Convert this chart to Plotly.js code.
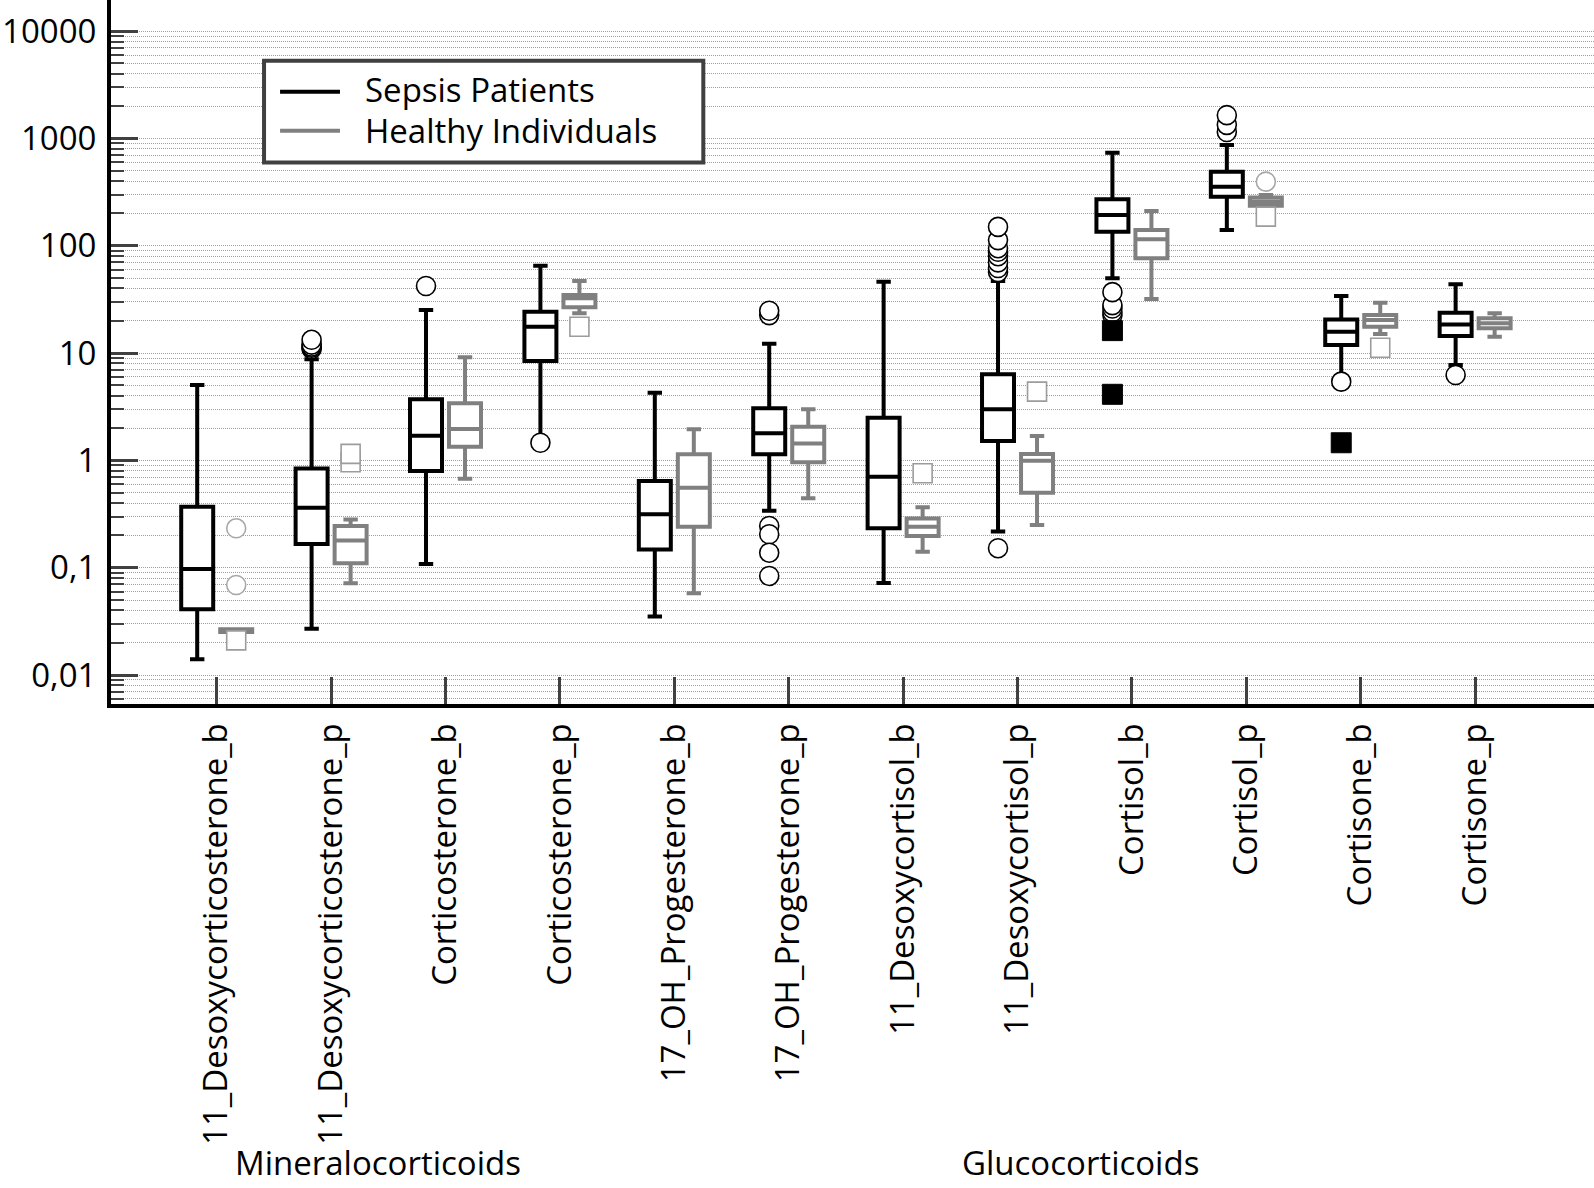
<!DOCTYPE html>
<html>
<head>
<meta charset="utf-8">
<script src="https://cdn.plot.ly/plotly-3.0.1.min.js"></script>
<style>html,body{margin:0;padding:0;background:#fff;}#chart{width:1594px;height:1188px;}</style>
</head>
<body>
<div id="chart"></div>
<script>
// ---- data ----
const categories = ['11_Desoxycorticosterone_b','11_Desoxycorticosterone_p','Corticosterone_b','Corticosterone_p',
  '17_OH_Progesterone_b','17_OH_Progesterone_p','11_Desoxycortisol_b','11_Desoxycortisol_p',
  'Cortisol_b','Cortisol_p','Cortisone_b','Cortisone_p'];

const sepsisLower  = [0.014, 0.027, 0.108, 1.55, 0.035, 0.34, 0.072, 0.217, 49.8, 140, 5.8, 7.75];
const sepsisQ1     = [0.041, 0.166, 0.796, 8.44, 0.148, 1.14, 0.233, 1.52, 135.5, 287, 11.9, 14.4];
const sepsisMedian = [0.097, 0.362, 1.70, 17.6, 0.314, 1.79, 0.705, 2.99, 194, 355, 15.8, 18.5];
const sepsisQ3     = [0.37, 0.84, 3.71, 24.3, 0.643, 3.06, 2.50, 6.34, 271, 491, 20.6, 23.8];
const sepsisUpper  = [5.05, 8.75, 25.2, 65.3, 4.28, 12.2, 46.3, 47, 738, 869, 34.1, 43.8];

const healthyLower  = [0.0251, 0.0716, 0.676, 23.5, 0.0577, 0.444, 0.141, 0.25, 31.9, 232, 15.1, 14.2];
const healthyQ1     = [0.0251, 0.11, 1.34, 26.7, 0.241, 0.96, 0.197, 0.50, 76.4, 236, 17.6, 17.0];
const healthyMedian = [0.0259, 0.179, 1.96, 32.4, 0.557, 1.44, 0.241, 0.994, 115, 258, 20.3, 19.0];
const healthyQ3     = [0.0267, 0.245, 3.40, 34.8, 1.14, 2.06, 0.288, 1.15, 140, 282, 22.6, 21.1];
const healthyUpper  = [0.0267, 0.282, 9.14, 47, 1.95, 2.99, 0.366, 1.69, 211, 297, 29.5, 23.5];

// outliers (circles) and extremes (squares)
const sepsisOutCat = ['11_Desoxycorticosterone_p','11_Desoxycorticosterone_p','11_Desoxycorticosterone_p','11_Desoxycorticosterone_p','11_Desoxycorticosterone_p',
  'Corticosterone_b','Corticosterone_p',
  '17_OH_Progesterone_p','17_OH_Progesterone_p','17_OH_Progesterone_p','17_OH_Progesterone_p','17_OH_Progesterone_p','17_OH_Progesterone_p',
  '11_Desoxycortisol_p','11_Desoxycortisol_p','11_Desoxycortisol_p','11_Desoxycortisol_p','11_Desoxycortisol_p','11_Desoxycortisol_p','11_Desoxycortisol_p','11_Desoxycortisol_p','11_Desoxycortisol_p',
  'Cortisol_b','Cortisol_b','Cortisol_b','Cortisol_b','Cortisol_b',
  'Cortisol_p','Cortisol_p','Cortisol_p','Cortisone_b','Cortisone_p'];
const sepsisOutVal = [10.9, 11.2, 11.5, 12.0, 13.3,
  42.2, 1.46,
  22.6, 24.8, 0.245, 0.205, 0.138, 0.0838,
  57, 62, 70, 80, 88, 95, 113, 150, 0.152,
  22.5, 24, 26, 28, 37,
  1150, 1340, 1650, 5.42, 6.25];
const sepsisExtCat = ['Cortisol_b','Cortisol_b','Cortisone_b'];
const sepsisExtVal = [16.2, 4.13, 1.46];

const healthyOutCat = ['11_Desoxycorticosterone_b','11_Desoxycorticosterone_b','Cortisol_p'];
const healthyOutVal = [0.233, 0.069, 396];
const healthyExtCat = ['11_Desoxycorticosterone_b','11_Desoxycorticosterone_p','11_Desoxycorticosterone_p','Corticosterone_p',
  '11_Desoxycortisol_b','11_Desoxycortisol_p','Cortisol_p','Cortisone_b'];
const healthyExtVal = [0.021, 0.96, 1.15, 17.6, 0.759, 4.37, 187, 11.2];

const yTickVals = [0.01, 0.1, 1, 10, 100, 1000, 10000];
const yTickText = ['0,01', '0,1', '1', '10', '100', '1000', '10000'];

const seriesNames = ['Sepsis Patients', 'Healthy Individuals'];
const groupLabels = ['Mineralocorticoids', 'Glucocorticoids'];

// ---- styling ----
const FONT = 'Open Sans, Liberation Sans, Arial, sans-serif';
const FS = 33;
const BLACK = '#000000';
const GRAY = '#808080';
const seriesColors = [BLACK, GRAY];

const boxCommon = {
  type: 'box', x: categories, boxpoints: false, whiskerwidth: 0.45,
  fillcolor: '#ffffff', showlegend: false, hoverinfo: 'skip'
};

const traces = [
  Object.assign({}, boxCommon, {
    name: seriesNames[0], offsetgroup: 'S',
    q1: sepsisQ1, median: sepsisMedian, q3: sepsisQ3, lowerfence: sepsisLower, upperfence: sepsisUpper,
    line: {color: BLACK, width: 4}
  }),
  Object.assign({}, boxCommon, {
    name: seriesNames[1], offsetgroup: 'H',
    q1: healthyQ1, median: healthyMedian, q3: healthyQ3, lowerfence: healthyLower, upperfence: healthyUpper,
    line: {color: GRAY, width: 4}
  }),
  {type: 'scatter', mode: 'markers', x: sepsisOutCat, y: sepsisOutVal, offsetgroup: 'S', showlegend: false,
   marker: {symbol: 'circle', size: 19, color: '#ffffff', line: {color: BLACK, width: 1.6}}},
  {type: 'scatter', mode: 'markers', x: sepsisExtCat, y: sepsisExtVal, offsetgroup: 'S', showlegend: false,
   marker: {symbol: 'square', size: 20, color: BLACK, line: {color: BLACK, width: 1}}},
  {type: 'scatter', mode: 'markers', x: healthyOutCat, y: healthyOutVal, offsetgroup: 'H', showlegend: false,
   marker: {symbol: 'circle', size: 19, color: '#ffffff', line: {color: '#a8a8a8', width: 1.6}}},
  {type: 'scatter', mode: 'markers', x: healthyExtCat, y: healthyExtVal, offsetgroup: 'H', showlegend: false,
   marker: {symbol: 'square', size: 19, color: '#ffffff', line: {color: '#9c9c9c', width: 1.6}}}
];

const gridDash = '1px,1px';
const gridColor = '#a0a0a0';

// legend drawn as a framed key (paper coordinates)
const legendBox = {x0: 0.1032, x1: 0.3994, y0: 0.7692, y1: 0.9136};
const legendRowsY = [0.8697, 0.8143];
const legendTextY = [0.8722, 0.8142];
const shapes = [
  {type: 'rect', xref: 'paper', yref: 'paper', x0: legendBox.x0, x1: legendBox.x1, y0: legendBox.y0, y1: legendBox.y1,
   line: {color: '#404040', width: 4}, fillcolor: '#ffffff', layer: 'above'}
];
const annotations = [];
seriesNames.forEach(function (nm, i) {
  shapes.push({type: 'line', xref: 'paper', yref: 'paper', x0: 0.1140, x1: 0.1544, y0: legendRowsY[i], y1: legendRowsY[i],
    line: {color: seriesColors[i], width: 4}, layer: 'above'});
  annotations.push({text: nm, xref: 'paper', yref: 'paper', x: 0.1701, y: legendTextY[i], xanchor: 'left', yanchor: 'middle',
    showarrow: false, font: {family: FONT, size: FS, color: '#000'}});
});
annotations.push(
  {text: groupLabels[0], xref: 'paper', yref: 'paper', x: 0.18, y: -0.686, xanchor: 'center', yanchor: 'bottom',
   showarrow: false, font: {family: FONT, size: FS, color: '#000'}},
  {text: groupLabels[1], xref: 'paper', yref: 'paper', x: 0.654, y: -0.686, xanchor: 'center', yanchor: 'bottom',
   showarrow: false, font: {family: FONT, size: FS, color: '#000'}}
);

const layout = {
  width: 1594, height: 1188,
  margin: {l: 111, r: 0, t: 0, b: 484, pad: 0},
  paper_bgcolor: '#ffffff', plot_bgcolor: '#ffffff',
  font: {family: FONT, size: FS, color: '#000'},
  showlegend: false,
  hovermode: false,
  boxmode: 'group', boxgap: 0.318, boxgroupgap: 0.18,
  scattermode: 'group', scattergap: 0.318,
  xaxis: {
    type: 'category', range: [-0.924, 12.039], fixedrange: true,
    showline: true, linecolor: BLACK, linewidth: 4,
    ticks: 'inside', ticklen: 27, tickwidth: 3, tickcolor: '#404040',
    tickangle: -90, tickfont: {family: FONT, size: FS, color: '#000'},
    ticklabelstandoff: 2,
    showgrid: false, zeroline: false
  },
  yaxis: {
    type: 'log', range: [-2.2703, 4.2907], fixedrange: true,
    tickmode: 'array', tickvals: yTickVals, ticktext: yTickText,
    showline: true, linecolor: BLACK, linewidth: 4,
    ticks: 'inside', ticklen: 27, tickwidth: 3, tickcolor: '#404040',
    tickfont: {family: FONT, size: FS, color: '#000'},
    ticklabelstandoff: 4,
    showgrid: true, gridcolor: gridColor, gridwidth: 1, griddash: gridDash,
    zeroline: false,
    minor: {ticks: 'inside', ticklen: 13, tickwidth: 2, tickcolor: '#404040', dtick: 'D1',
            showgrid: true, gridcolor: gridColor, gridwidth: 1, griddash: gridDash}
  },
  shapes: shapes,
  annotations: annotations
};

Plotly.newPlot('chart', traces, layout, {displayModeBar: false, staticPlot: true});
</script>
</body>
</html>
